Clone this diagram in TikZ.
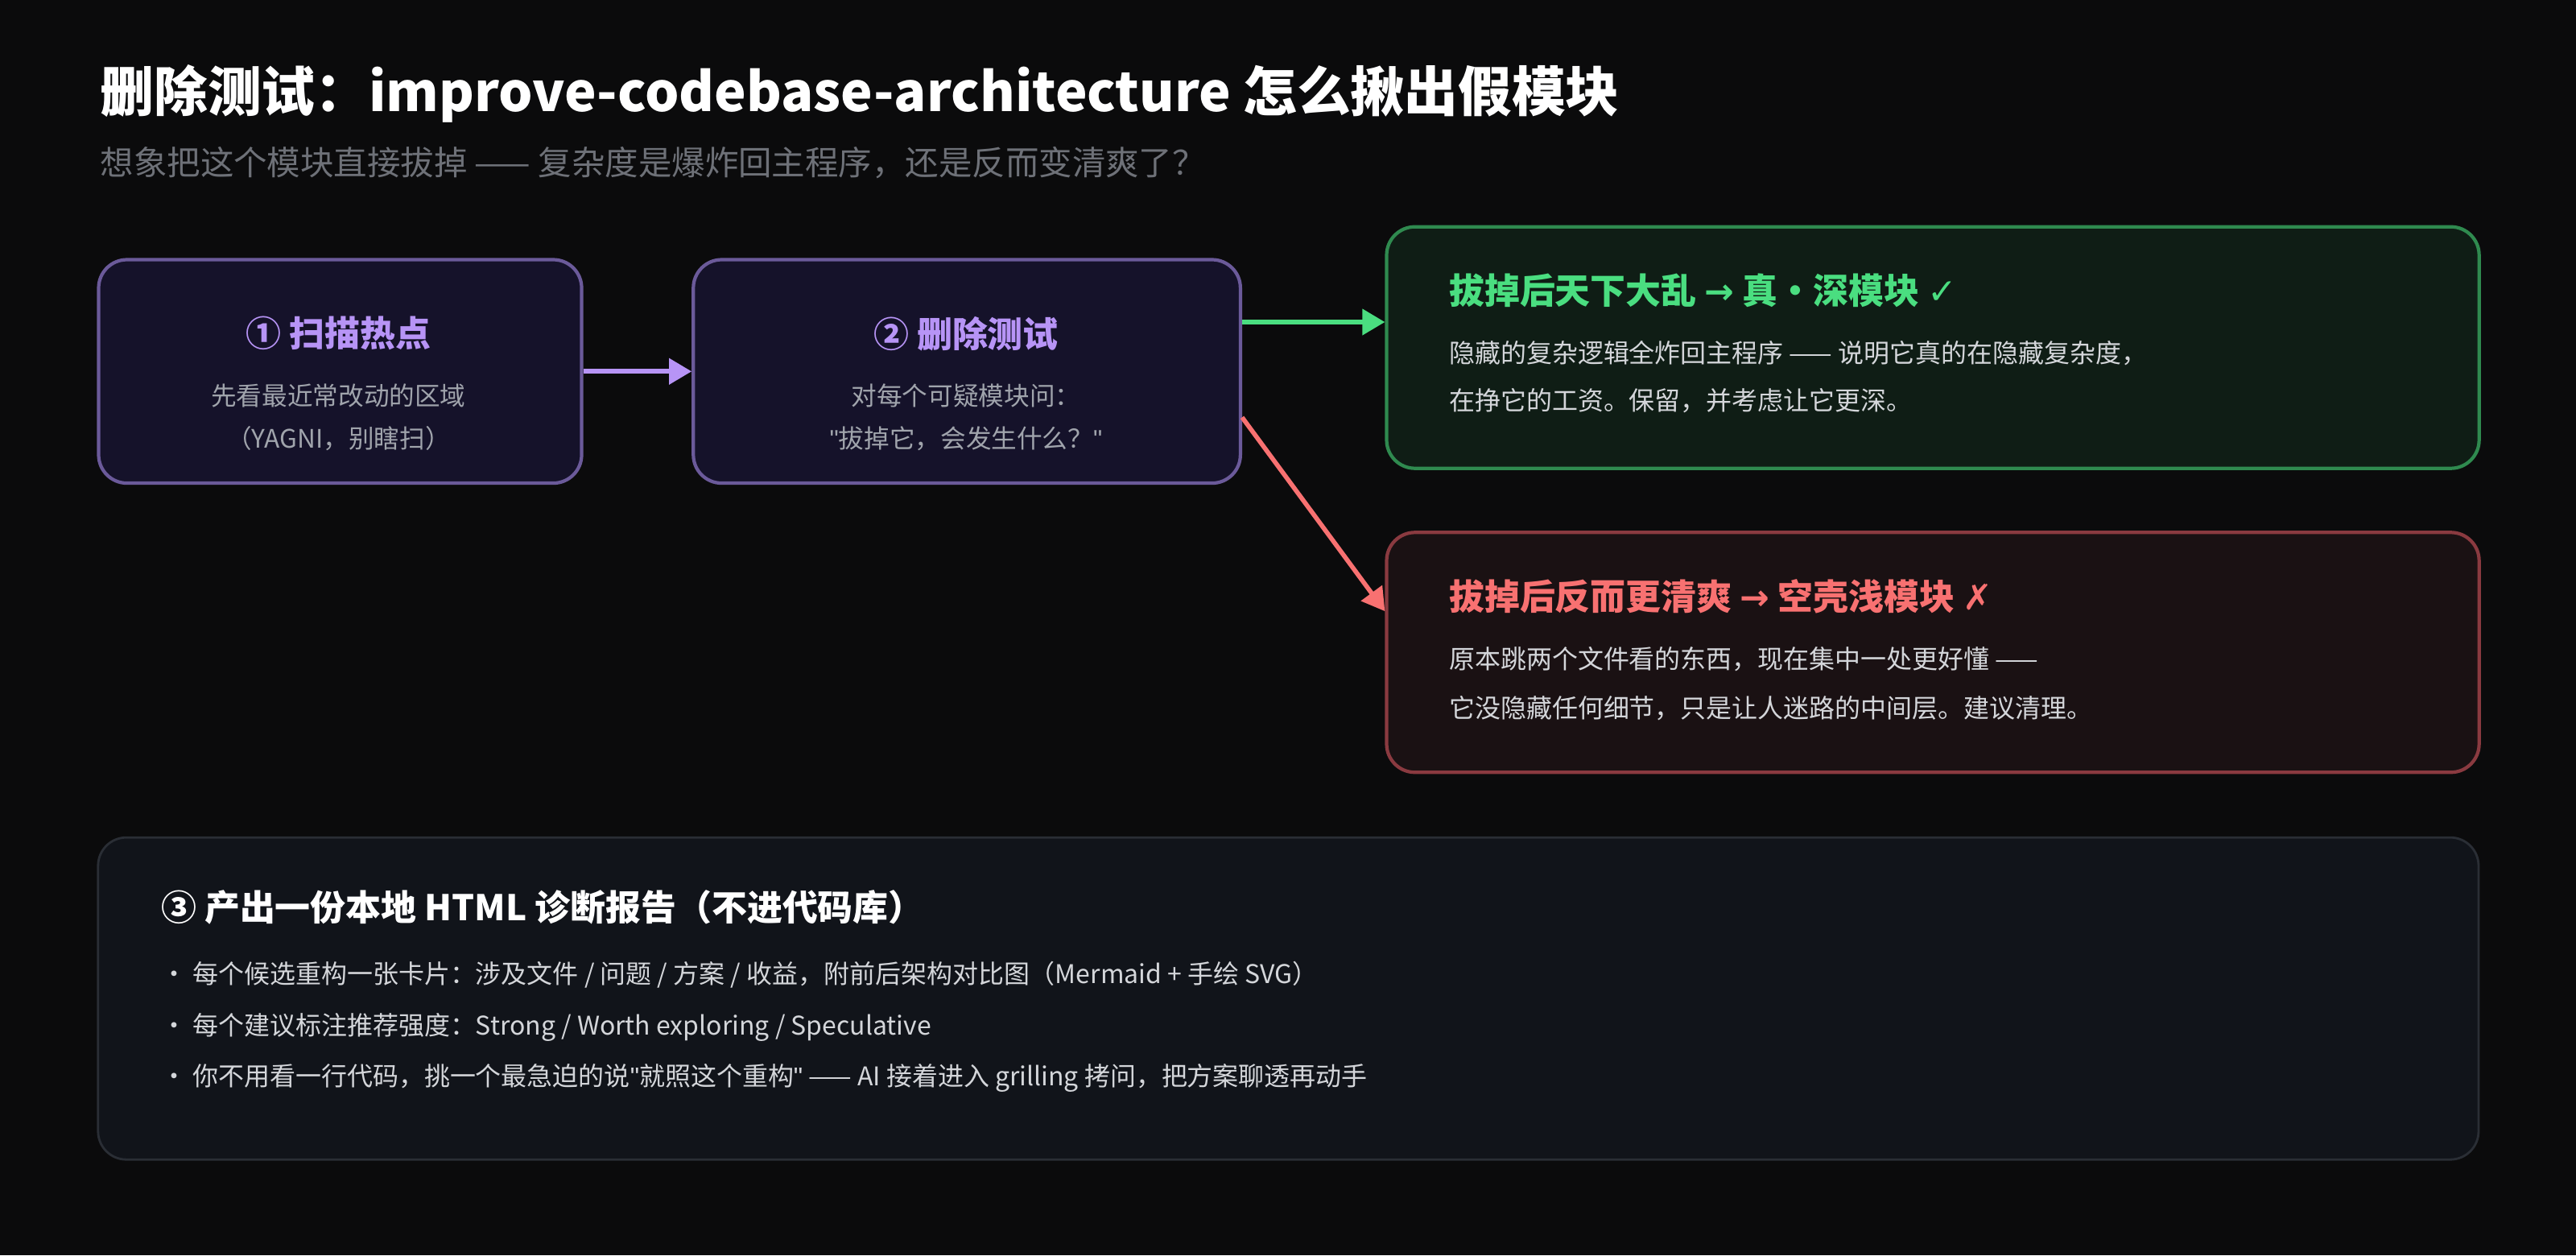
\documentclass[tikz,border=0pt]{standalone}
\usepackage{fontspec}
\setmainfont{Noto Sans CJK SC}
\newfontfamily\symfont{DejaVu Sans}
\newfontfamily\qfont{Liberation Sans}
\usetikzlibrary{positioning,arrows.meta}
\definecolor{bgc}{HTML}{0B0B0C}
\definecolor{purp}{HTML}{B794F6}
\definecolor{purpfill}{HTML}{15122A}
\definecolor{purpline}{HTML}{6B5A9A}
\definecolor{grn}{HTML}{4ADE80}
\definecolor{grnfill}{HTML}{0F1D15}
\definecolor{grnline}{HTML}{2F8A4F}
\definecolor{rd}{HTML}{F87171}
\definecolor{rdfill}{HTML}{1A1113}
\definecolor{rdline}{HTML}{8A3A40}
\definecolor{botfill}{HTML}{11141A}
\definecolor{botline}{HTML}{2A2E35}
\definecolor{txtgray}{HTML}{A0A4AC}
\definecolor{subgray}{HTML}{6E7178}
\definecolor{txtlight}{HTML}{D4D6DA}
\newcommand{\dq}{{\qfont "}}
\tikzset{
  stepbox/.style = {draw=purpline,fill=purpfill,line width=1.2pt,rounded corners=10pt,
        anchor=north west,inner sep=0pt},
  result/.style = {line width=1.2pt,rounded corners=10pt,anchor=north west,inner sep=0pt},
  steptitle/.style = {text=purp,font=\fontsize{12.5}{14}\selectfont\bfseries},
  body/.style = {text=txtgray,font=\fontsize{9}{10}\selectfont},
  restitle/.style = {anchor=west,font=\fontsize{12.5}{14}\selectfont\bfseries},
  resbody/.style = {anchor=west,text=txtlight,font=\fontsize{9.1}{10}\selectfont},
  arrow/.style = {line width=1.6pt,-{Triangle[length=8pt,width=9pt]}}
}
\begin{document}
\begin{tikzpicture}[x=0.02041cm,y=-0.02041cm]
 \fill[bgc] (0,0) rectangle (1568,764);
 \useasboundingbox (0,0) rectangle (1568,764);
 % header
 \node[anchor=west,text=white,font=\fontsize{19}{22}\selectfont\bfseries] (title) at (55,57)
   {删除测试：improve-codebase-architecture 怎么揪出假模块};
 \node[anchor=west,text=subgray,font=\fontsize{11.8}{13}\selectfont] (subtitle) at (55,99)
   {想象把这个模块直接拔掉 —— 复杂度是爆炸回主程序，还是反而变清爽了？};
 % steps
 \node[stepbox,minimum width=294*0.02041cm,minimum height=136*0.02041cm] (scan) at (59,157) {};
 \node[stepbox,minimum width=333*0.02041cm,minimum height=136*0.02041cm] (del) at (421,157) {};
 \node[steptitle] (scant) at (206,203) {① 扫描热点};
 \node[body] (scanb1) at (206,241) {先看最近常改动的区域};
 \node[body] (scanb2) at (206,267) {（YAGNI，别瞎扫）};
 \node[steptitle] (delt) at (588,203) {② 删除测试};
 \node[body] (delb1) at (588,241) {对每个可疑模块问：};
 \node[body] (delb2) at (588,267) {\dq 拔掉它，会发生什么？\dq};
 % outcomes
 \node[result,draw=grnline,fill=grnfill,minimum width=665*0.02041cm,minimum height=147*0.02041cm] (deep) at (843,137) {};
 \node[restitle,text=grn] (deept) at (876,177) {拔掉后天下大乱 {\symfont→} 真·深模块 {\symfont ✓}};
 \node[resbody] (deepb1) at (876,215) {隐藏的复杂逻辑全炸回主程序 —— 说明它真的在隐藏复杂度，};
 \node[resbody] (deepb2) at (876,244) {在挣它的工资。保留，并考虑让它更深。};
 \node[result,draw=rdline,fill=rdfill,minimum width=665*0.02041cm,minimum height=146*0.02041cm] (shallow) at (843,323) {};
 \node[restitle,text=rd] (shallowt) at (876,363) {拔掉后反而更清爽 {\symfont→} 空壳浅模块 {\symfont ✗}};
 \node[resbody] (shallowb1) at (876,401) {原本跳两个文件看的东西，现在集中一处更好懂 ——};
 \node[resbody] (shallowb2) at (876,431) {它没隐藏任何细节，只是让人迷路的中间层。建议清理。};
 % report
 \node[result,draw=botline,fill=botfill,line width=0.8pt,minimum width=1449*0.02041cm,minimum height=196*0.02041cm] (report) at (59,509) {};
 \node[anchor=west,text=white,font=\fontsize{12.5}{14}\selectfont\bfseries] (reportt) at (92,552)
   {③ 产出一份本地 HTML 诊断报告（不进代码库）};
 \node[resbody] (rep1) at (92,593) {· 每个候选重构一张卡片：涉及文件 / 问题 / 方案 / 收益，附前后架构对比图（Mermaid + 手绘 SVG）};
 \node[resbody] (rep2) at (92,625) {· 每个建议标注推荐强度：Strong / Worth exploring / Speculative};
 \node[resbody] (rep3) at (92,656) {· 你不用看一行代码，挑一个最急迫的说\dq 就照这个重构\dq\ —— AI 接着进入 grilling 拷问，把方案聊透再动手};
 % connectors
 \draw[arrow,purp] (scan.east) -- (del.west);
 \draw[arrow,grn] (del.east |- 0,196) -- (deep.west |- 0,196);
 \draw[arrow,rd] (del.east |- 0,254) -- (shallow.west |- 0,372);
\end{tikzpicture}
\end{document}
